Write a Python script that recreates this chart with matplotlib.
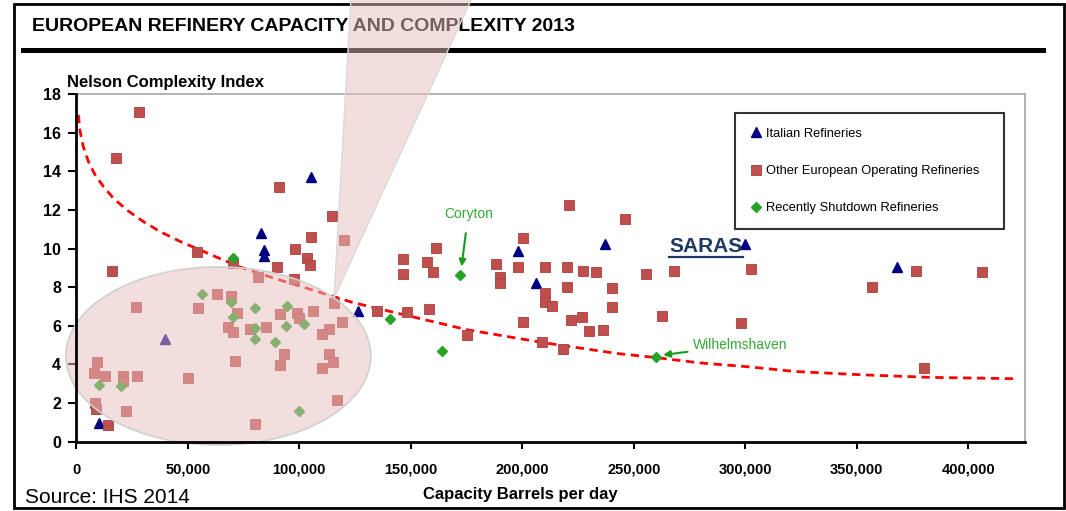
import matplotlib
matplotlib.use('Agg')
import matplotlib.pyplot as plt
from matplotlib import font_manager
from matplotlib.patches import Ellipse, Polygon, Rectangle
from matplotlib.lines import Line2D
from matplotlib.ticker import FuncFormatter

# Italian refineries (capacity bbl/day, Nelson index)
italian_x = [105100, 82800, 84000, 84000, 39800, 10300, 126200, 198200, 237100, 299800, 206100, 368300]
italian_y = [13.7, 10.8, 9.9, 9.6, 5.3, 0.98, 6.79, 9.88, 10.23, 10.23, 8.24, 9.03]

# Other European operating refineries
other_x = [28000, 17800, 90900, 114800, 120000, 105100, 98200, 54000, 70100, 103300,
           104800, 89900, 15900, 146600, 146600, 81300, 97800, 62900, 69400, 26600,
           54400, 115700, 135000, 148100, 72200, 91300, 98800, 100000, 106000, 119100,
           113400, 110200, 68200, 70100, 77900, 85100, 9300, 8100, 12900, 21100,
           21100, 27100, 50000, 71200, 93100, 91300, 113200, 115200, 110200, 8500,
           8800, 22100, 116900, 14100, 80100,
           221100, 246200, 200200, 161300, 157100, 160100, 188200, 190100, 190100, 198200,
           210200, 220200, 220200, 227100, 233300, 240300, 240300, 255300, 267900, 210200,
           210200, 213200, 158200, 200200, 221700, 226600, 230000, 236300, 262600, 298300,
           175300, 209000, 218100, 302400, 357100, 376800, 406400, 380400]
other_y = [17.05, 14.7, 13.19, 11.69, 10.45, 10.6, 9.97, 9.81, 9.25, 9.5,
           9.15, 9.06, 8.84, 9.47, 8.7, 8.52, 8.43, 7.64, 7.52, 6.99,
           6.91, 7.2, 6.77, 6.69, 6.65, 6.6, 6.65, 6.4, 6.79, 6.21,
           5.82, 5.57, 5.96, 5.7, 5.84, 5.93, 4.14, 3.58, 3.41, 3.41,
           3.16, 3.41, 3.3, 4.18, 4.56, 3.97, 4.55, 4.14, 3.84, 1.99,
           1.7, 1.59, 2.16, 0.88, 0.9,
           12.23, 11.52, 10.54, 10.02, 9.28, 8.81, 9.2, 8.55, 8.2, 9.03,
           9.06, 9.03, 8.0, 8.86, 8.76, 7.95, 6.99, 8.69, 8.86, 7.69,
           7.25, 7.03, 6.86, 6.18, 6.3, 6.43, 5.74, 5.79, 6.53, 6.13,
           5.5, 5.18, 4.8, 8.95, 8.03, 8.86, 8.76, 3.84]

# Recently shutdown refineries
shut_x = [70100, 56200, 69400, 80100, 94300, 140700, 70400, 102000, 94200, 80100,
          80100, 89100, 10200, 19900, 100000, 172000, 164100, 260200]
shut_y = [9.53, 7.64, 7.25, 6.91, 7.03, 6.35, 6.48, 6.08, 5.98, 5.87,
          5.32, 5.18, 2.94, 2.9, 1.61, 8.64, 4.67, 4.41]

# trend line
trend_x = [900, 1700, 3100, 5400, 8400, 12100, 16600, 22600, 30000, 37500, 46500,
           55400, 64400, 73400, 89900, 106300, 124200, 149600, 175100, 209400, 242300,
           260300, 279700, 302100, 323000, 352900, 382800, 421400]
trend_y = [16.92, 16.07, 15.29, 14.51, 13.82, 13.22, 12.61, 12.0, 11.4, 10.88, 10.37,
           9.93, 9.48, 9.04, 8.42, 7.84, 7.2, 6.5, 5.8, 5.13, 4.57,
           4.35, 4.08, 3.87, 3.63, 3.46, 3.33, 3.26]

x_ticks = [0, 50000, 100000, 150000, 200000, 250000, 300000, 350000, 400000]
y_ticks = [0, 2, 4, 6, 8, 10, 12, 14, 16, 18]

names = {f.name for f in font_manager.fontManager.ttflist}
narrow = 'Liberation Sans Narrow' if 'Liberation Sans Narrow' in names else 'Liberation Sans'
arial = 'Liberation Sans'

W, H = 1066, 511


def fx(px):
    return px / W


def fy(py):
    return 1 - py / H


fig = plt.figure(figsize=(10.66, 5.11), dpi=100)
fig.patch.set_facecolor('white')
ax = fig.add_axes([fx(76.3), fy(441.7), fx(1025) - fx(76.3), fy(94) - fy(441.7)])

ax.plot(trend_x, trend_y, color='#FF0000', lw=2, dashes=(3, 2), zorder=2)
h1, = ax.plot(italian_x, italian_y, ls='none', marker='^', ms=7, color='#000080',
              label='Italian Refineries', zorder=3)
h2, = ax.plot(other_x, other_y, ls='none', marker='s', ms=6.5, color='#C0504D',
              mec='#A8403D', mew=0.6, label='Other European Operating Refineries', zorder=3)
h3, = ax.plot(shut_x, shut_y, ls='none', marker='D', ms=5.5, color='#27A327',
              label='Recently Shutdown Refineries', zorder=3)

ax.set_xlim(0, 425500)
ax.set_ylim(0, 18)
ax.set_xticks(x_ticks)
ax.set_yticks(y_ticks)
ax.xaxis.set_major_formatter(FuncFormatter(lambda v, p: '{:,}'.format(int(v))))
ax.tick_params(axis='x', direction='out', length=5, width=1.5, pad=10,
               labelsize=10.5)
ax.tick_params(axis='y', direction='out', length=6, width=1.5, pad=5,
               labelsize=11.5)
for lab in ax.get_xticklabels() + ax.get_yticklabels():
    lab.set_fontfamily(narrow)
    lab.set_fontweight('bold')

for s in ['top', 'right']:
    ax.spines[s].set_color('#A6A6A6')
    ax.spines[s].set_linewidth(1.2)
for s in ['left', 'bottom']:
    ax.spines[s].set_color('black')
    ax.spines[s].set_linewidth(2)
    ax.spines[s].set_zorder(5)

# highlight ellipse
ell = Ellipse((63700, 4.44), 136800, 9.22, facecolor=(232/255, 190/255, 190/255, 0.5),
              edgecolor='#D0D0D0', lw=1.2, zorder=4, clip_on=False)
ax.add_patch(ell)

leg = ax.legend(handles=[h1, h2, h3], loc='upper left',
                bbox_to_anchor=(0.694, 0.945, 0.284, 0.0), mode='expand',
                prop={'family': narrow, 'size': 9.3}, frameon=True, fancybox=False,
                edgecolor='black', borderpad=1.15, labelspacing=1.95,
                handlelength=1.0, handletextpad=0.25, borderaxespad=0)
leg.get_frame().set_linewidth(1.5)

# annotations
ax.annotate('Coryton', xy=(172800, 9.07), xytext=(175800, 11.8), ha='center', va='center',
            color='#33AA33', fontsize=10, family=narrow,
            arrowprops=dict(arrowstyle='-|>', color='#1A9A1A', lw=1.5, shrinkA=7, shrinkB=0,
                            mutation_scale=10))
ax.annotate('Wilhelmshaven', xy=(263200, 4.49), xytext=(276600, 5.01), ha='left', va='center',
            color='#33AA33', fontsize=10, family=narrow,
            arrowprops=dict(arrowstyle='-|>', color='#1A9A1A', lw=1.5, shrinkA=2, shrinkB=0,
                            mutation_scale=10))
saras = ax.text(282400, 10.13, 'SARAS', ha='center', va='center', fontsize=15,
                fontweight='bold', family=arial, color='#1F3864')

fig.text(fx(520), fy(494), 'Capacity Barrels per day', ha='center', va='center',
         fontsize=12, fontweight='bold', family=arial)
fig.text(fx(67), fy(86.7), 'Nelson Complexity Index', ha='left', va='baseline',
         fontsize=12, fontweight='bold', family=arial)
fig.text(fx(32), fy(26.7), 'EUROPEAN REFINERY CAPACITY AND COMPLEXITY 2013', ha='left',
         va='center', fontsize=14, fontweight='bold', family=narrow, zorder=1)
fig.text(fx(25), fy(503), 'Source: IHS 2014', ha='left', va='baseline', fontsize=15,
         family=arial)

# frame and title rule
fig.add_artist(Rectangle((fx(13.5), fy(508)), fx(1063.5) - fx(13.5), fy(4) - fy(508),
                         transform=fig.transFigure, fill=False, edgecolor='black',
                         lw=2, zorder=1))
fig.add_artist(Line2D([fx(22.7), fx(1042.7)], [fy(50.5), fy(50.5)], transform=fig.transFigure,
                      color='black', lw=3.6, zorder=1))

# callout wedge
fig.add_artist(Polygon([(fx(351), fy(-2)), (fx(472), fy(-2)), (fx(334), fy(298))],
                       closed=True, transform=fig.transFigure,
                       facecolor=(232/255, 190/255, 190/255, 0.5), edgecolor='#D9D9D9',
                       lw=1, zorder=10))

# underline SARAS
fig.canvas.draw()
bb = saras.get_window_extent()
fig.add_artist(Line2D([bb.x0 / W, bb.x1 / W], [(bb.y0 - 1) / H, (bb.y0 - 1) / H],
                      transform=fig.transFigure, color='#1F3864', lw=1.6))

fig.savefig('out.png', dpi=100)
